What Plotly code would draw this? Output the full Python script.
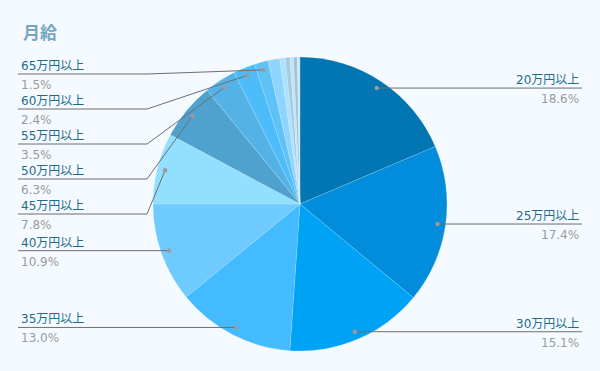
import math
import plotly.graph_objects as go

# ---- data ----
categories = ["20万円以上", "25万円以上", "30万円以上", "35万円以上", "40万円以上",
              "45万円以上", "50万円以上", "55万円以上", "60万円以上", "65万円以上",
              "70万円以上", "75万円以上", "80万円以上", "85万円以上", "90万円以上", "95万円以上"]
shares = [18.6, 17.4, 15.1, 13.0, 10.9, 7.8, 6.3, 3.5, 2.4, 1.5,
          1.3, 0.6, 0.5, 0.4, 0.4, 0.3]
labelled = 10  # first N slices carry outside labels

colors = ["#0275B3", "#018DDB", "#00A2F6", "#44BBFE", "#6ECAFF", "#92DFFF",
          "#4FA2CE", "#55B2E6", "#4DBDF9", "#5EC2F7", "#8FD4FF", "#ADE2FF",
          "#A4CBE0", "#BEE4F7", "#9FC3DA", "#C8E8F8"]

W, H = 600, 371
CX, CY, R = 300, 204, 147
DOT_R = 139

def px(x):
    return x / W

def py(y):
    return 1 - y / H

fig = go.Figure(go.Pie(
    labels=categories, values=shares, sort=False, direction="clockwise",
    rotation=0, textinfo="none", hoverinfo="label+percent",
    marker=dict(colors=colors, line=dict(color="rgba(255,255,255,0.25)", width=0.6)),
    domain=dict(x=[px(CX - R), px(CX + R)], y=[py(CY + R), py(CY - R)]),
    showlegend=False,
))

total = sum(shares)
shapes = []
annotations = []

# dot positions from data
dots = []
cum = 0
for i, v in enumerate(shares):
    mid = (cum + v / 2) / total * 2 * math.pi
    cum += v
    dots.append((CX + DOT_R * math.sin(mid), CY - DOT_R * math.cos(mid)))

right = [i for i in range(labelled) if dots[i][0] >= CX]
left = [i for i in range(labelled) if dots[i][0] < CX]

# left labels: from top downward with min spacing
left_sorted = sorted(left, key=lambda i: dots[i][1])
ly = {}
prev = 74 - 35
for i in left_sorted:
    y = max(dots[i][1], prev + 35)
    ly[i] = y
    prev = y
ry = {i: dots[i][1] for i in right}

NAME_C = "#1F6B8A"
PCT_C = "#9A9A9A"
LINE_C = "#6E6E6E"
FONT = "DejaVu Sans, Noto Sans CJK JP, sans-serif"

def add_label(i, y, side):
    dx, dy = dots[i]
    if side == "L":
        x0, xe = 18, 147
        path = f"M {px(x0)} {py(y)} L {px(xe)} {py(y)} L {px(dx)} {py(dy)}"
        tx, anchor = 19, "left"
    else:
        x0, xe = 582, 453
        path = f"M {px(dx)} {py(dy)} L {px(xe)} {py(y)} L {px(x0)} {py(y)}"
        tx, anchor = 581, "right"
    shapes.append(dict(type="path", path=path, xref="paper", yref="paper",
                       line=dict(color=LINE_C, width=1)))
    shapes.append(dict(type="circle", xref="paper", yref="paper",
                       x0=px(dx - 2.2), x1=px(dx + 2.2), y0=py(dy + 2.2), y1=py(dy - 2.2),
                       fillcolor="#9A9A9A", line=dict(width=0)))
    annotations.append(dict(x=px(tx), y=py(y - 8), xref="paper", yref="paper",
                            text=categories[i], showarrow=False, xanchor=anchor,
                            yanchor="middle", font=dict(size=12, color=NAME_C, family=FONT)))
    annotations.append(dict(x=px(tx), y=py(y + 11), xref="paper", yref="paper",
                            text=f"{shares[i]:.1f}%", showarrow=False, xanchor=anchor,
                            yanchor="middle", font=dict(size=12, color=PCT_C, family=FONT)))

for i in right:
    add_label(i, ry[i], "R")
for i in left:
    add_label(i, ly[i], "L")

annotations.append(dict(x=px(21), y=py(32), xref="paper", yref="paper", text="<b>月給</b>",
                        showarrow=False, xanchor="left", yanchor="middle",
                        font=dict(size=17, color="#74A6C0", family="Noto Sans CJK JP, sans-serif")))

fig.update_layout(
    width=W, height=H, margin=dict(l=0, r=0, t=0, b=0),
    paper_bgcolor="#F4FAFF", plot_bgcolor="#F4FAFF",
    shapes=shapes, annotations=annotations,
)

fig.write_html("out.html")
